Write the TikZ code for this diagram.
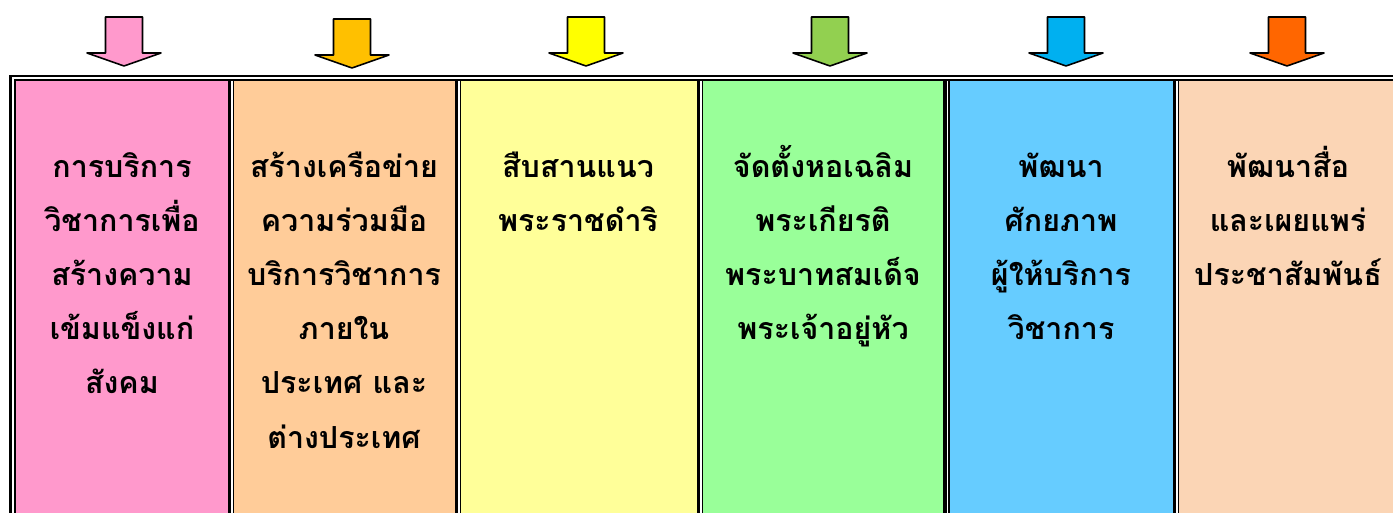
\documentclass[tikz,border=0pt]{standalone}
\usepackage{fontspec}
\newfontfamily\thaifont[Script=Thai]{Loma}
\usepackage{tikz}

\definecolor{pinkarrow}{HTML}{FF99CC}
\definecolor{pinkcell}{HTML}{FF99CC}
\definecolor{goldarrow}{HTML}{FFC000}
\definecolor{orangecell}{HTML}{FFCC99}
\definecolor{yellowarrow}{HTML}{FFFF00}
\definecolor{yellowcell}{HTML}{FFFF99}
\definecolor{greenarrow}{HTML}{92D050}
\definecolor{greencell}{HTML}{99FF99}
\definecolor{bluearrow}{HTML}{00B0F0}
\definecolor{bluecell}{HTML}{66CCFF}
\definecolor{redarrow}{HTML}{FF6600}
\definecolor{peachcell}{HTML}{FBD5B5}

% same top for every first line
\newcommand{\firstln}{\rule{0pt}{20pt}}

\tikzset{
    coltext/.style={anchor=north, align=center, inner sep=0pt,
        font=\thaifont\bfseries\fontsize{17.3}{30.8}\selectfont},
    gap/.style={white, line width=0.6pt},
    downarrow/.pic={
        \draw[pic actions, line width=0.9pt, line join=round]
            (-18.5,17) -- (18.5,17) -- (18.5,53) -- (37,53)
            -- (0,66) -- (-37,53) -- (-18.5,53) -- cycle;
    }
}

\begin{document}
\begin{tikzpicture}[x=0.02cm, y=-0.02cm]

\useasboundingbox (0,0) rectangle (1393,513);

% cells
\fill[pinkcell]   (16,81)   rectangle (228,513);
\fill[orangecell] (234,81)  rectangle (455,513);
\fill[yellowcell] (461,81)  rectangle (697,513);
\fill[greencell]  (703,81)  rectangle (943,513);
\fill[bluecell]   (950,81)  rectangle (1173,513);
\fill[peachcell]  (1179,81) rectangle (1393,513);

% frame, double line
\fill (9,75)   rectangle (1393,77.5);
\fill (9,75)   rectangle (11.5,513);
\fill (14,79)  rectangle (1393,81);
\fill (14,79)  rectangle (16,513);

% dividers
\fill (228,81)  rectangle (234,513);
\fill (455,81)  rectangle (461,513);
\fill (697,81)  rectangle (703,513);
\fill (943,81)  rectangle (950,513);
\fill (1173,81) rectangle (1179,513);
\draw[gap] (232,81)  -- (232,513);
\draw[gap] (459,81)  -- (459,513);
\draw[gap] (701,81)  -- (701,513);
\draw[gap] (947.5,81) -- (947.5,513);
\draw[gap] (1177,81) -- (1177,513);

% arrows
\pic[fill=pinkarrow]   at (124,0)  {downarrow};
\pic[fill=goldarrow]   at (352,2)  {downarrow};
\pic[fill=yellowarrow] at (586,0)  {downarrow};
\pic[fill=greenarrow]  at (830,0)  {downarrow};
\pic[fill=bluearrow]   at (1066,0) {downarrow};
\pic[fill=redarrow]    at (1287,0) {downarrow};

% texts
\node[coltext] (service) at (122,142)
    {\firstln การบริการ\\วิชาการเพื่อ\\สร้างความ\\เข้มแข็งแก่\\สังคม};
\node[coltext] (network) at (344,142)
    {\firstln สร้างเครือข่าย\\ความร่วมมือ\\บริการวิชาการ\\ภายใน\\ประเทศ และ\\ต่างประเทศ};
\node[coltext] (royal) at (578,142)
    {\firstln สืบสานแนว\\พระราชดำริ};
\node[coltext] (hall) at (823,142)
    {\firstln จัดตั้งหอเฉลิม\\พระเกียรติ\\พระบาทสมเด็จ\\พระเจ้าอยู่หัว};
\node[coltext] (staff) at (1061,142)
    {\firstln พัฒนา\\ศักยภาพ\\ผู้ให้บริการ\\วิชาการ};
\node[coltext] (media) at (1288,142)
    {\firstln พัฒนาสื่อ\\และเผยแพร่\\ประชาสัมพันธ์};

\end{tikzpicture}
\end{document}
